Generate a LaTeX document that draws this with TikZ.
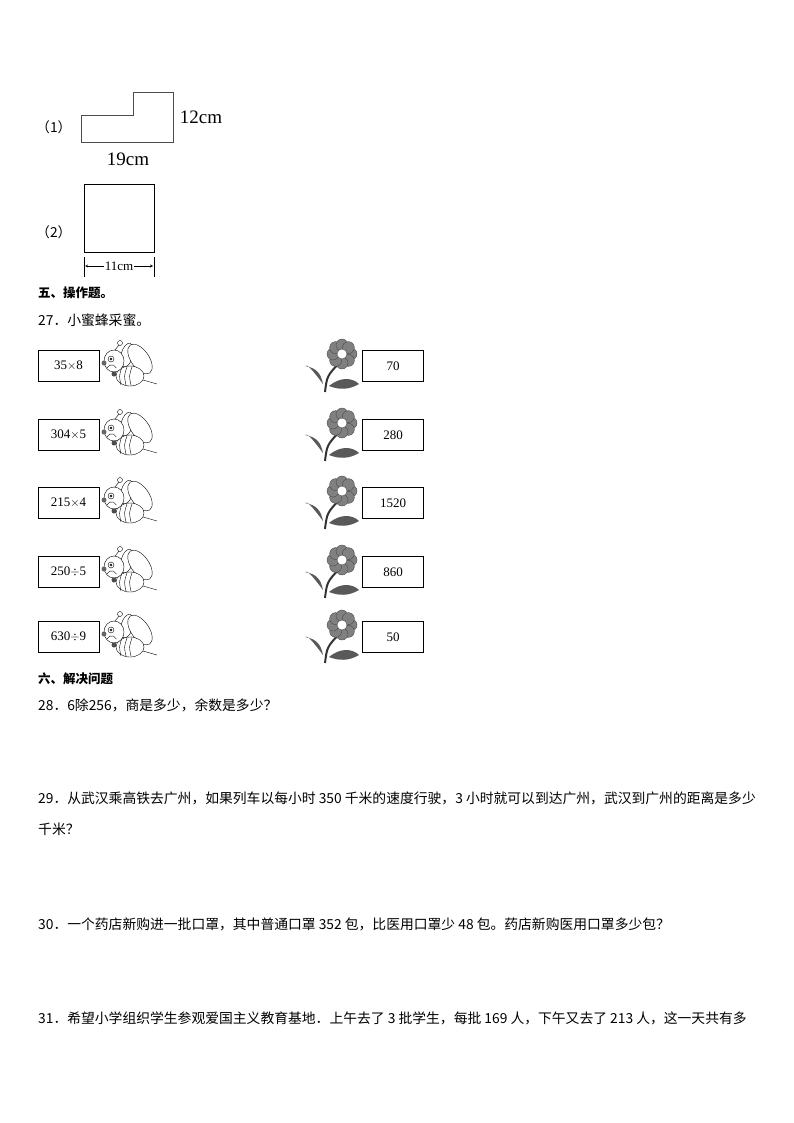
\documentclass[tikz,border=0pt]{standalone}
\usepackage{fontspec}
\setmainfont{Liberation Serif}
\newfontfamily\cjk{Noto Sans CJK SC}
\begin{document}
\begin{tikzpicture}[x=1pt,y=-1pt,
  txt/.style={anchor=west,inner sep=0,font=\cjk\fontsize{13.8}{15}\selectfont},
  hd/.style={anchor=west,inner sep=0,font=\cjk\bfseries\fontsize{12.5}{15}\selectfont},
  numbox/.style={draw,minimum width=61pt,minimum height=31pt,inner sep=0,font=\fontsize{13}{14}\selectfont},
  fig/.style={draw=black!70,line width=0.6pt}]
\useasboundingbox (0,0) rectangle (794,1123);
% figure 1
\node[txt] (l1) at (36,127) {（1）};
\draw[fig] (81,115) -- (133,115) -- (133,92) -- (173,92) -- (173,142) -- (81,142) -- cycle;
\node[font=\fontsize{19}{21}\selectfont] (a) at (201,117) {12cm};
\node[font=\fontsize{19}{21}\selectfont] (b) at (128,159) {19cm};
% figure 2
\node[txt] (l2) at (36,232) {（2）};
\draw[line width=0.8pt] (84,184) rectangle (154,252);
\draw (84,257) -- (84,277) (154,257) -- (154,277);
\node[font=\fontsize{13}{14}\selectfont,inner sep=1pt] (c) at (119,266) {11cm};
\draw[-stealth] (c.west) -- (85,266);
\draw[-stealth] (c.east) -- (153,266);
\node[hd] (h5) at (38,293) {五、操作题。};
\node[txt] (q27) at (38,320) {27．小蜜蜂采蜜。};
\foreach \y/\l/\r [count=\i] in {366/35$\times$8/70, 435/304$\times$5/280, 503/215$\times$4/1520, 572/250$\div$5/860, 637/630$\div$9/50}{
  \node[numbox] (L\i) at (68.5,\y) {\l};
  \node[numbox] (R\i) at (393,\y) {\r};
  % bee
  \begin{scope}[shift={(100,\y)}]
    \draw[fill=white,rotate around={-15:(27,-11)}] (27,-11) ellipse (6 and 12);
    \draw[fill=white,rotate around={35:(40,-7)}] (40,-7) ellipse (9 and 17);
    \draw[fill=white] (30,10) ellipse (14 and 10);
    \foreach \k in {0,5,10} \draw (22+\k,1) .. controls (19+\k,10) .. (21+\k,19);
    \draw (43,14) -- (57,18);
    \draw[fill=white] (14,-5) ellipse (10 and 11);
    \draw (11,-7) circle (3) (11,-7) circle (1);
    \draw (7,2) arc (200:340:5);
    \draw (15,-16) -- (19,-21) (20,-23) circle (2.5);
    \fill[black!60] (4,-3) circle (2.5);
    \fill[black!70] (14,8) circle (2.5);
  \end{scope}
  % flower
  \begin{scope}[shift={(305,\y)}]
    \draw[black!80,line width=2pt] (20,26) .. controls (22,10) .. (35,-4);
    \fill[black!65] (18,18) .. controls (6,2) and (2,-2) .. (0,0) .. controls (12,2) and (16,8) .. (18,18);
    \fill[black!65] (24,20) .. controls (36,10) and (48,12) .. (54,18) .. controls (44,24) and (34,24) .. (24,20);
    \foreach \a in {0,45,...,315} \fill[black!50,draw=black!70] (37,-12)+(\a:9) circle (6);
    \fill[white,draw=black!70] (37,-12) circle (5);
  \end{scope}
}
\node[hd] (h6) at (38,679) {六、解决问题};
\node[txt] (q28) at (38,705) {28．6除256，商是多少，余数是多少？};
\node[txt] (q29) at (38,798) {29．从武汉乘高铁去广州，如果列车以每小时 350 千米的速度行驶，3 小时就可以到达广州，武汉到广州的距离是多少};
\node[txt] (q29b) at (38,829) {千米？};
\node[txt] (q30) at (38,924) {30．一个药店新购进一批口罩，其中普通口罩 352 包，比医用口罩少 48 包。药店新购医用口罩多少包？};
\node[txt] (q31) at (38,1018) {31．希望小学组织学生参观爱国主义教育基地．上午去了 3 批学生，每批 169 人，下午又去了 213 人，这一天共有多};
\end{tikzpicture}
\end{document}
